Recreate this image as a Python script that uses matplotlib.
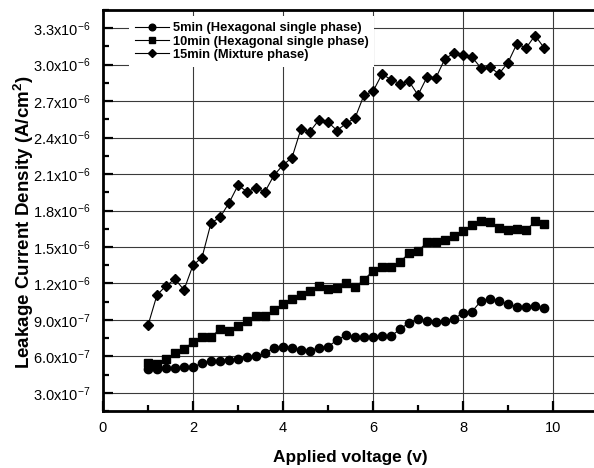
import numpy as np
import matplotlib
matplotlib.use('Agg')
import matplotlib.pyplot as plt
from matplotlib.ticker import MultipleLocator, FuncFormatter

plt.rcParams['font.family'] = 'Liberation Sans'
plt.rcParams['mathtext.default'] = 'regular'

# applied voltage (V), 1.0 .. 9.8 in 0.2 steps
voltage = [1.0, 1.2, 1.4, 1.6, 1.8, 2.0, 2.2, 2.4, 2.6, 2.8,
           3.0, 3.2, 3.4, 3.6, 3.8, 4.0, 4.2, 4.4, 4.6, 4.8,
           5.0, 5.2, 5.4, 5.6, 5.8, 6.0, 6.2, 6.4, 6.6, 6.8,
           7.0, 7.2, 7.4, 7.6, 7.8, 8.0, 8.2, 8.4, 8.6, 8.8,
           9.0, 9.2, 9.4, 9.6, 9.8]

# leakage current density, in units of 1e-7 A/cm^2
j_5min = [4.92, 4.92, 5.00, 5.05, 5.09, 5.14, 5.42, 5.63, 5.63, 5.69,
          5.75, 5.96, 6.02, 6.24, 6.71, 6.79, 6.71, 6.52, 6.46, 6.71,
          6.79, 7.34, 7.73, 7.61, 7.61, 7.61, 7.67, 7.67, 8.22, 8.77,
          9.05, 8.93, 8.85, 8.90, 9.07, 9.60, 9.68, 10.56, 10.75, 10.56,
          10.28, 10.09, 10.09, 10.15, 9.96]
j_10min = [5.47, 5.40, 5.80, 6.24, 6.57, 7.20, 7.55, 7.61, 8.22, 8.10,
           8.50, 8.90, 9.35, 9.35, 9.82, 10.31, 10.75, 11.05, 11.40, 11.82,
           11.52, 11.62, 12.02, 11.69, 12.30, 13.03, 13.39, 13.39, 13.75, 14.49,
           14.63, 15.40, 15.40, 15.59, 15.87, 16.33, 16.77, 17.10, 17.05, 16.55,
           16.36, 16.50, 16.36, 17.10, 16.91]
j_15min = [8.55, 11.05, 11.80, 12.35, 11.47, 13.50, 14.13, 16.97, 17.43, 18.62,
           20.07, 19.55, 19.85, 19.55, 20.90, 21.74, 22.35, 24.72, 24.50, 25.46,
           25.28, 24.58, 25.16, 25.60, 27.50, 27.80, 29.23, 28.77, 28.44, 28.63,
           27.50, 28.98, 28.93, 30.50, 30.94, 30.80, 30.63, 29.72, 29.78, 29.25,
           30.17, 31.74, 31.36, 32.40, 31.40]

labels = ['5min (Hexagonal single phase)',
          '10min (Hexagonal single phase)',
          '15min (Mixture phase)']

x = np.array(voltage)
series = [np.array(j_5min) * 1e-7, np.array(j_10min) * 1e-7, np.array(j_15min) * 1e-7]
markers = ['o', 's', 'D']
sizes = [6, 6, 5.5]

fig = plt.figure(figsize=(5.94, 4.68), dpi=100)
ax = fig.add_axes([103 / 594, 57 / 468, 495 / 594, 401 / 468])

for y, m, ms, lab in zip(series, markers, sizes, labels):
    ax.plot(x, y, color='black', lw=0.8, marker=m, ms=ms, label=lab, zorder=3)

ax.set_xlim(0, 11)
ax.set_ylim(1.5e-7, 3.45e-6)
ax.xaxis.set_major_locator(MultipleLocator(2))
ax.xaxis.set_minor_locator(MultipleLocator(1))
ax.yaxis.set_major_locator(MultipleLocator(3e-7))
ax.yaxis.set_minor_locator(MultipleLocator(1.5e-7))


def sci(v, pos):
    if v <= 0:
        return ''
    e = int(np.floor(np.log10(v) + 1e-9))
    m = v / 10 ** e
    return r'$\mathregular{%.1fx10^{%d}}$' % (m, e)


ax.yaxis.set_major_formatter(FuncFormatter(sci))
ax.tick_params(which='both', direction='in', width=1.6, labelsize=10.5)
ax.tick_params(which='major', length=7)
ax.tick_params(which='minor', length=4)
ax.tick_params(axis='y', pad=9)
ax.tick_params(axis='x', pad=7)

ax.grid(True, which='major', color='#3a3a3a', lw=0.8, zorder=0)
for s in ['left', 'bottom', 'top']:
    ax.spines[s].set_linewidth(2)
ax.spines['right'].set_visible(False)

ax.set_xlabel('Applied voltage (v)', fontsize=12.4, fontweight='bold', labelpad=11)
ax.set_ylabel('Leakage Current Density (A/cm$^{2}$)', fontsize=13.5, fontweight='bold', labelpad=4)
ax.yaxis.set_label_coords(-0.135, 0.47)

leg = ax.legend(loc='upper left', bbox_to_anchor=(0.04, 1.0), frameon=True,
                fancybox=False, framealpha=1, edgecolor='none', facecolor='white',
                prop={'weight': 'bold', 'size': 9.3}, handlelength=2.6,
                handletextpad=0.3, labelspacing=0.1, borderpad=0.45,
                markerscale=0.8)
leg.set_zorder(5)

fig.savefig('out.png', dpi=100)
